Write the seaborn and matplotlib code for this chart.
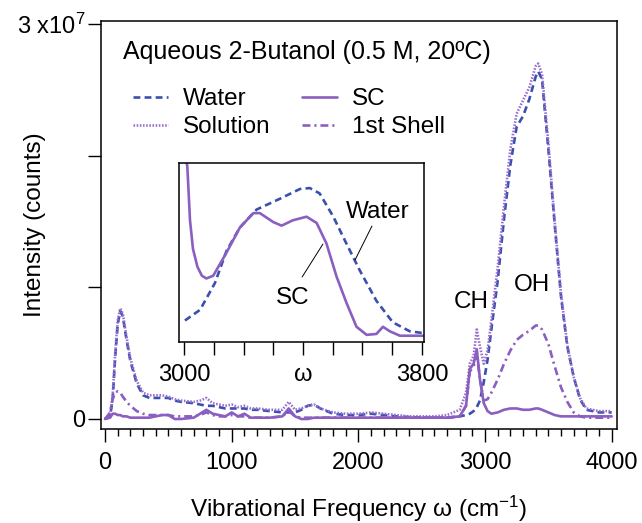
import numpy as np
import seaborn as sns
import matplotlib.pyplot as plt
from matplotlib.ticker import MultipleLocator

sns.set_theme(style='ticks')
plt.rcParams['font.family'] = ['Liberation Sans', 'DejaVu Sans']
plt.rcParams['mathtext.fontset'] = 'custom'
plt.rcParams['mathtext.rm'] = 'Liberation Sans'
plt.rcParams['mathtext.it'] = 'Liberation Sans:italic'
plt.rcParams['text.color'] = 'black'
plt.rcParams['axes.labelcolor'] = 'black'

SCALE = 1e7  # intensities below are in units of 1e7 counts

freq = [0, 40, 60, 80, 100, 120, 140, 170, 200, 250, 300, 350, 400, 450, 500,
        550, 600, 700, 750, 800, 850, 900, 950, 1000, 1050, 1100, 1150, 1200,
        1300, 1400, 1450, 1500, 1550, 1600, 1650, 1700, 1800, 1900, 2000, 2100,
        2200, 2300, 2400, 2500, 2600, 2700, 2800, 2850, 2880, 2910, 2935, 2960,
        2990, 3020, 3050, 3100, 3150, 3200, 3250, 3300, 3350, 3400, 3420, 3450,
        3500, 3550, 3600, 3650, 3700, 3750, 3800, 3900, 4000]

water = [0.0, 0.02, 0.15, 0.47, 0.72, 0.82, 0.78, 0.6, 0.44, 0.27, 0.18, 0.16,
         0.16, 0.16, 0.16, 0.14, 0.13, 0.12, 0.11, 0.10, 0.10, 0.09, 0.08, 0.08,
         0.08, 0.08, 0.07, 0.07, 0.06, 0.05, 0.05, 0.05, 0.07, 0.10, 0.11, 0.08,
         0.04, 0.03, 0.03, 0.04, 0.03, 0.02, 0.015, 0.01, 0.01, 0.01, 0.02, 0.03,
         0.04, 0.06, 0.09, 0.14, 0.28, 0.45, 0.68, 1.05, 1.52, 1.93, 2.22, 2.3,
         2.43, 2.6, 2.64, 2.58, 2.05, 1.48, 0.93, 0.55, 0.32, 0.15, 0.07, 0.05,
         0.05]

solution = [0.0, 0.03, 0.18, 0.5, 0.75, 0.84, 0.8, 0.62, 0.46, 0.29, 0.2, 0.18,
            0.18, 0.18, 0.17, 0.15, 0.14, 0.13, 0.14, 0.16, 0.12, 0.11, 0.10,
            0.11, 0.09, 0.10, 0.08, 0.08, 0.07, 0.07, 0.13, 0.07, 0.08, 0.10,
            0.11, 0.08, 0.05, 0.04, 0.04, 0.05, 0.04, 0.03, 0.02, 0.02, 0.02,
            0.03, 0.07, 0.2, 0.42, 0.48, 0.68, 0.55, 0.42, 0.52, 0.75, 1.15,
            1.62, 2.05, 2.32, 2.42, 2.52, 2.68, 2.70, 2.62, 2.1, 1.5, 0.95, 0.56,
            0.32, 0.16, 0.08, 0.06, 0.06]

sc = [0.0, 0.01, 0.04, 0.04, 0.03, 0.03, 0.02, 0.02, 0.01, 0.01, 0.01, 0.01,
      0.02, 0.03, 0.03, 0.0, 0.0, 0.01, 0.04, 0.07, 0.04, 0.03, 0.02, 0.05,
      0.02, 0.04, 0.01, 0.01, 0.01, 0.02, 0.08, 0.02, 0.0, 0.0, 0.01, 0.01,
      0.01, 0.01, 0.01, 0.01, 0.01, 0.01, 0.01, 0.01, 0.01, 0.01, 0.02, 0.1,
      0.38, 0.42, 0.53, 0.3, 0.12, 0.06, 0.04, 0.05, 0.07, 0.08, 0.08, 0.07,
      0.07, 0.08, 0.08, 0.07, 0.05, 0.03, 0.02, 0.02, 0.02, 0.02, 0.02, 0.02,
      0.02]

shell = [0.0, 0.05, 0.15, 0.2, 0.21, 0.2, 0.17, 0.13, 0.1, 0.06, 0.04, 0.03,
         0.03, 0.03, 0.03, 0.02, 0.02, 0.02, 0.03, 0.05, 0.03, 0.02, 0.02,
         0.03, 0.02, 0.02, 0.01, 0.01, 0.01, 0.02, 0.06, 0.02, 0.01, 0.01,
         0.01, 0.01, 0.01, 0.01, 0.01, 0.01, 0.01, 0.01, 0.01, 0.01, 0.01,
         0.01, 0.02, 0.1, 0.36, 0.4, 0.5, 0.3, 0.14, 0.15, 0.2, 0.3, 0.42,
         0.52, 0.6, 0.64, 0.67, 0.71, 0.71, 0.68, 0.57, 0.4, 0.24, 0.13, 0.05,
         0.02, 0.01, 0.01, 0.01]

# inset: normalized OH band
inset_freq = [3000, 3011, 3020, 3030, 3045, 3060, 3075, 3098, 3143, 3188, 3233,
              3255, 3300, 3328, 3366, 3412, 3446, 3479, 3513, 3546, 3580, 3614,
              3647, 3669, 3692, 3726, 3803]
inset_sc = [1.1, 0.98, 0.68, 0.52, 0.42, 0.37, 0.355, 0.37, 0.5, 0.64, 0.72,
            0.72, 0.67, 0.65, 0.68, 0.70, 0.665, 0.55, 0.365, 0.22, 0.085,
            0.04, 0.045, 0.085, 0.06, 0.035, 0.035]
inset_wfreq = [3003, 3054, 3104, 3143, 3188, 3244, 3322, 3390, 3423, 3456, 3502,
               3546, 3591, 3647, 3702, 3759, 3803]
inset_water = [0.12, 0.18, 0.33, 0.51, 0.64, 0.74, 0.80, 0.855, 0.86, 0.83,
               0.70, 0.55, 0.40, 0.23, 0.11, 0.06, 0.05]

blue = '#3a50ae'
purple = '#8a5fc0'
lw = 1.9
fs = 17.5

fig = plt.figure(figsize=(6.42, 5.23), dpi=100)
ax = fig.add_axes([101 / 642, 1 - 429 / 523, 516 / 642, 408 / 523])

x = np.array(freq)
sns.lineplot(x=x, y=np.array(water) * SCALE, ax=ax, color=blue, lw=lw,
             linestyle=(0, (2.6, 1.6)))
h_water = ax.lines[-1]
sns.lineplot(x=x, y=np.array(solution) * SCALE, ax=ax, color='#9a6fd0', lw=lw,
             linestyle=(0, (0.6, 0.6)))
h_sol = ax.lines[-1]
sns.lineplot(x=x, y=np.array(shell) * SCALE, ax=ax, color=purple, lw=lw,
             linestyle=(0, (3, 1.5, 0.8, 1.5)))
h_shell = ax.lines[-1]
sns.lineplot(x=x, y=np.array(sc) * SCALE, ax=ax, color=purple, lw=lw,
             linestyle='-')
h_sc = ax.lines[-1]

ax.set_xlim(-32, 4042)
ax.set_ylim(-0.076 * SCALE, 3.023 * SCALE)
ax.set_xticks([0, 1000, 2000, 3000, 4000])
ax.xaxis.set_minor_locator(MultipleLocator(100))
ax.set_yticks([0, 1 * SCALE, 2 * SCALE, 3 * SCALE])
ax.set_yticklabels(['0', '', '', '3 x10$^{7}$'])
ax.tick_params(axis='both', which='major', direction='out', length=9.5,
               width=1.0, labelsize=17, color='black', labelcolor='black')
ax.tick_params(axis='x', which='major', pad=7)
ax.tick_params(axis='y', which='major', pad=2)
ax.tick_params(axis='x', which='minor', direction='out', length=5, width=1.0,
               color='black')
for s in ax.spines.values():
    s.set_color('black')
    s.set_linewidth(1.1)

ax.set_xlabel('Vibrational Frequency ω (cm$^{-1}$)', fontsize=fs)
ax.xaxis.label.set_va('center')
ax.xaxis.set_label_coords(0.5, (429 - 509) / 408)
ax.set_ylabel('Intensity (counts)', fontsize=fs)
ax.yaxis.label.set_va('center')
ax.yaxis.set_label_coords((35 - 101) / 516, 0.5)

ax.text(2893, 0.89 * SCALE, 'CH', fontsize=fs, ha='center', va='center')
ax.text(3367, 1.015 * SCALE, 'OH', fontsize=fs, ha='center', va='center')
fig.text(123 / 642, 1 - 52 / 523, 'Aqueous 2-Butanol (0.5 M, 20ºC)',
         fontsize=18, ha='left', va='center')

ax.legend(handles=[h_water, h_sol, h_sc, h_shell],
          labels=['Water', 'Solution', 'SC', '1st Shell'],
          ncol=2, frameon=False, fontsize=fs, loc='upper left',
          bbox_to_anchor=(133 / 642, 1 - 88 / 523),
          bbox_transform=fig.transFigure, borderpad=0, borderaxespad=0,
          handlelength=1.45, handletextpad=0.6, columnspacing=1.3,
          labelspacing=0.26)

# inset
axi = fig.add_axes([179 / 642, 1 - 342 / 523, 245 / 642, 179 / 523])
sns.lineplot(x=inset_wfreq, y=inset_water, ax=axi, color=blue, lw=lw,
             linestyle=(0, (2.6, 1.6)))
sns.lineplot(x=inset_freq, y=inset_sc, ax=axi, color=purple, lw=lw,
             linestyle='-')
axi.set_xlim(2983, 3807)
axi.set_ylim(0, 1)
axi.set_xticks(np.arange(3000, 3801, 100))
axi.set_xticklabels(['3000', '', '', '', 'ω', '', '', '', '3800'])
axi.set_yticks([])
axi.tick_params(axis='x', direction='out', length=9, width=1.0, labelsize=17,
                pad=7, color='black', labelcolor='black')
for s in axi.spines.values():
    s.set_color('black')
    s.set_linewidth(1.1)
axi.set_facecolor('white')

axi.text(3652, 0.726, 'Water', fontsize=fs, ha='center', va='center')
axi.plot([3632, 3575], [0.648, 0.458], color='black', lw=0.7)
axi.text(3366, 0.246, 'SC', fontsize=fs, ha='center', va='center')
axi.plot([3397, 3467], [0.363, 0.547], color='black', lw=0.7)

fig.savefig('out.png', dpi=100)
